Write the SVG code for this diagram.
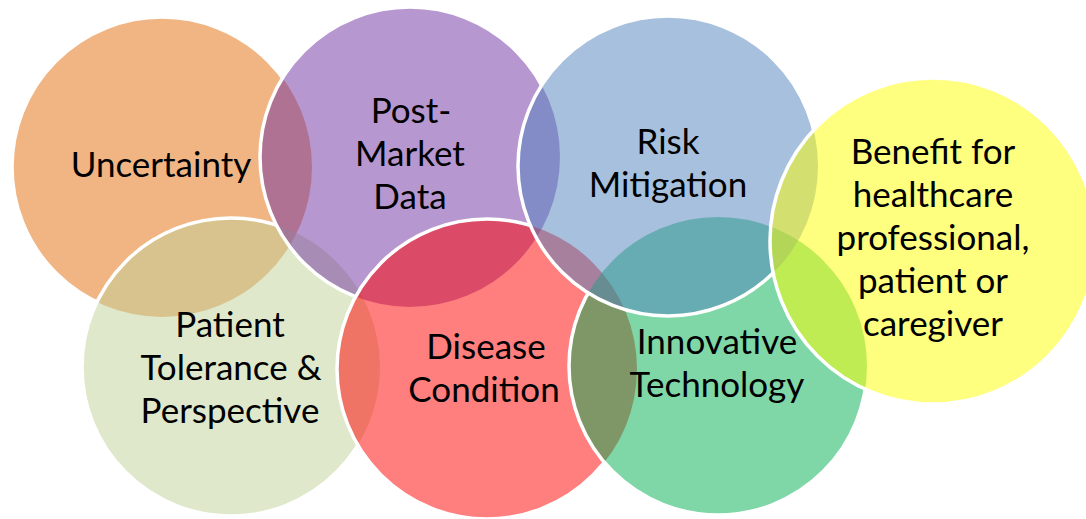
<svg xmlns="http://www.w3.org/2000/svg" width="1086" height="519" viewBox="0 0 1086 519">
<style>
.f{opacity:0.5}
.s{fill:none;stroke:#fff;stroke-width:3.5}
.t{font-family:Lato,"Liberation Sans",sans-serif;font-size:35px;fill:#000;text-anchor:middle}
</style>
<defs>
<mask id="m1" maskUnits="userSpaceOnUse" x="0" y="0" width="1086" height="519">
<rect x="0" y="0" width="1086" height="519" fill="#fff"/>
<circle cx="231" cy="367" r="149" fill="#000"/><circle cx="410" cy="157" r="150" fill="#000"/><circle cx="487" cy="369" r="150" fill="#000"/><circle cx="718" cy="366" r="149" fill="#000"/><circle cx="668" cy="166" r="150" fill="#000"/><circle cx="933" cy="241" r="163" fill="#000"/>
</mask>
<mask id="m2" maskUnits="userSpaceOnUse" x="0" y="0" width="1086" height="519">
<rect x="0" y="0" width="1086" height="519" fill="#fff"/>
<circle cx="410" cy="157" r="150" fill="#000"/><circle cx="487" cy="369" r="150" fill="#000"/><circle cx="718" cy="366" r="149" fill="#000"/><circle cx="668" cy="166" r="150" fill="#000"/><circle cx="933" cy="241" r="163" fill="#000"/>
</mask>
<mask id="m3" maskUnits="userSpaceOnUse" x="0" y="0" width="1086" height="519">
<rect x="0" y="0" width="1086" height="519" fill="#fff"/>
<circle cx="487" cy="369" r="150" fill="#000"/><circle cx="718" cy="366" r="149" fill="#000"/><circle cx="668" cy="166" r="150" fill="#000"/><circle cx="933" cy="241" r="163" fill="#000"/>
</mask>
<mask id="m4" maskUnits="userSpaceOnUse" x="0" y="0" width="1086" height="519">
<rect x="0" y="0" width="1086" height="519" fill="#fff"/>
<circle cx="718" cy="366" r="149" fill="#000"/><circle cx="668" cy="166" r="150" fill="#000"/><circle cx="933" cy="241" r="163" fill="#000"/>
</mask>
<mask id="m5" maskUnits="userSpaceOnUse" x="0" y="0" width="1086" height="519">
<rect x="0" y="0" width="1086" height="519" fill="#fff"/>
<circle cx="668" cy="166" r="150" fill="#000"/><circle cx="933" cy="241" r="163" fill="#000"/>
</mask>
<mask id="m6" maskUnits="userSpaceOnUse" x="0" y="0" width="1086" height="519">
<rect x="0" y="0" width="1086" height="519" fill="#fff"/>
<circle cx="933" cy="241" r="163" fill="#000"/>
</mask>
</defs>
<rect x="0" y="0" width="1086" height="519" fill="#fff"/>
<g id="uncertainty">
<circle class="f" cx="162" cy="167" r="150" fill="#E46C0A"/>
<circle class="s" cx="162" cy="167" r="150" mask="url(#m1)"/>
<text class="t" x="161" y="177">Uncertainty</text>
</g>
<g id="patient-tolerance">
<circle class="f" cx="231" cy="367" r="149" fill="#BFD197"/>
<circle class="s" cx="231" cy="367" r="149" mask="url(#m2)"/>
<text class="t" x="230" y="337">Patient</text>
<text class="t" x="231" y="380">Tolerance &amp;</text>
<text class="t" x="230" y="423">Perspective</text>
</g>
<g id="post-market-data">
<circle class="f" cx="410" cy="157" r="150" fill="#7030A0"/>
<circle class="s" cx="410" cy="157" r="150" mask="url(#m3)"/>
<text class="t" x="411" y="123">Post-</text>
<text class="t" x="410" y="166">Market</text>
<text class="t" x="410" y="209">Data</text>
</g>
<g id="disease-condition">
<circle class="f" cx="487" cy="369" r="150" fill="#FF0000"/>
<circle class="s" cx="487" cy="369" r="150" mask="url(#m4)"/>
<text class="t" x="486" y="359">Disease</text>
<text class="t" x="484" y="402">Condition</text>
</g>
<g id="innovative-technology">
<circle class="f" cx="718" cy="366" r="149" fill="#00B050"/>
<circle class="s" cx="718" cy="366" r="149" mask="url(#m5)"/>
<text class="t" x="717" y="354">Innovative</text>
<text class="t" x="717" y="397">Technology</text>
</g>
<g id="risk-mitigation">
<circle class="f" cx="668" cy="166" r="150" fill="#4F81BD"/>
<circle class="s" cx="668" cy="166" r="150" mask="url(#m6)"/>
<text class="t" x="668" y="154">Risk</text>
<text class="t" x="668" y="197">Mitigation</text>
</g>
<g id="benefit">
<circle class="f" cx="933" cy="241" r="163" fill="#FFFF00"/>
<circle class="s" cx="933" cy="241" r="163"/>
<text class="t" x="933" y="164">Benefit for</text>
<text class="t" x="933" y="207">healthcare</text>
<text class="t" x="933" y="250">professional,</text>
<text class="t" x="933" y="293">patient or</text>
<text class="t" x="933" y="336">caregiver</text>
</g>
</svg>
